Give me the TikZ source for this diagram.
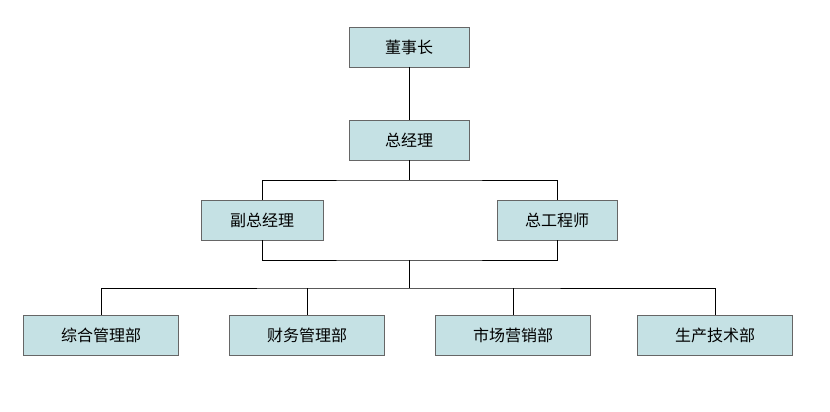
\documentclass[tikz,border=0pt]{standalone}
\usepackage{fontspec}
\setmainfont{Noto Sans CJK SC}
\begin{document}
\begin{tikzpicture}[x=1pt,y=-1pt,
  box/.style={draw=gray!80!black,fill={rgb,255:red,197;green,225;blue,228},minimum height=40pt,inner sep=0pt,font=\fontsize{16}{18}\selectfont},
  ln/.style={draw=black,line width=0.8pt}]
\useasboundingbox (0,0) rectangle (830,412);
\node[box,minimum width=120pt] (a) at (409,47) {董事长};
\node[box,minimum width=120pt] (b) at (409,140) {总经理};
\node[box,minimum width=122pt] (c) at (262,220) {副总经理};
\node[box,minimum width=120pt] (d) at (557,220) {总工程师};
\node[box,minimum width=155pt] (e1) at (101,335) {综合管理部};
\node[box,minimum width=155pt] (e2) at (307,335) {财务管理部};
\node[box,minimum width=155pt] (e3) at (513,335) {市场营销部};
\node[box,minimum width=155pt] (e4) at (715,335) {生产技术部};
\coordinate (j1) at (409,180);
\coordinate (j2) at (409,260);
\coordinate (j3) at (409,288);
\draw[ln] (a) -- (b);
\draw[ln] (b) -- (j1);
\draw[ln] (c.north) |- (j1) -| (d.north);
\draw[ln] (c.south) |- (j2) -| (d.south);
\draw[ln] (j2) -- (j3);
\draw[ln] (e1.north) |- (j3) -| (e4.north);
\draw[ln] (e2.north) -- (e2.north |- j3);
\draw[ln] (e3.north) -- (e3.north |- j3);
\end{tikzpicture}
\end{document}
